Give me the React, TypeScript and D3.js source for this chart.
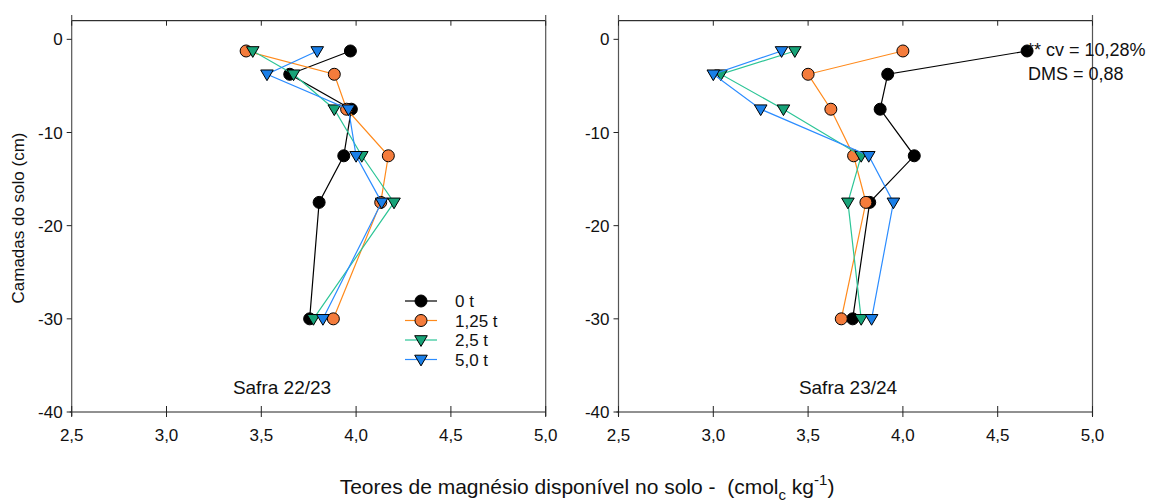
import React from "react";
import * as d3 from "d3";

const depths = [-1.25, -3.75, -7.5, -12.5, -17.5, -30];
const seriesNames = ["0 t", "1,25 t", "2,5 t", "5,0 t"];
const safra2223_0t = [3.97, 3.65, 3.975, 3.935, 3.805, 3.755];
const safra2223_125t = [3.42, 3.885, 3.95, 4.17, 4.13, 3.88];
const safra2223_25t = [3.455, 3.67, 3.885, 4.03, 4.2, 3.775];
const safra2223_50t = [3.795, 3.53, 3.96, 4.0, 4.135, 3.825];
const safra2324_0t = [4.655, 3.92, 3.88, 4.06, 3.825, 3.735];
const safra2324_125t = [4.0, 3.5, 3.62, 3.74, 3.805, 3.675];
const safra2324_25t = [3.43, 3.04, 3.37, 3.78, 3.71, 3.78];
const safra2324_50t = [3.36, 3.0, 3.25, 3.82, 3.95, 3.835];
const xTicks = [2.5, 3.0, 3.5, 4.0, 4.5, 5.0];
const yTicks = [0, -10, -20, -30, -40];

const styles = [
  { line: "#000000", fill: "#000000", shape: "circle" },
  { line: "#FF8A1C", fill: "#F47C3C", shape: "circle" },
  { line: "#2CC596", fill: "#17A378", shape: "tri" },
  { line: "#2B8CFF", fill: "#1A7FE8", shape: "tri" },
];

const FONT = "Arial, 'Liberation Sans', sans-serif";

function Marker({ x, y, shape, fill }: { x: number; y: number; shape: string; fill: string }) {
  if (shape === "circle") {
    return <circle cx={x} cy={y} r={6} fill={fill} stroke="#000" strokeWidth={1} />;
  }
  const p = `${x - 6.3},${y - 4.3} ${x + 6.3},${y - 4.3} ${x},${y + 6.4}`;
  return <polygon points={p} fill={fill} stroke="#000" strokeWidth={1} strokeLinejoin="miter" />;
}

function Panel({ left, data, title, titleX, showLegend, annotation }: any) {
  const x = d3.scaleLinear().domain([2.5, 5.0]).range([left, left + 474]);
  const y = d3.scaleLinear().domain([-40, 2]).range([412, 20.7]);
  const line = d3
    .line<[number, number]>()
    .x((d) => x(d[0]))
    .y((d) => y(d[1]));
  const x0 = x(2.5);
  const x1 = x(5.0);
  const yb = y(-40);
  const yt = y(2);
  return (
    <g>
      <line x1={x0} y1={yt} x2={x1} y2={yt} stroke="#000" strokeWidth={1} />
      <line x1={x0 - 2} y1={yb} x2={x1} y2={yb} stroke="#222" strokeWidth={1} />
      <line x1={x0} y1={15} x2={x0} y2={416} stroke="#555" strokeWidth={1.2} />
      <line x1={x1} y1={15} x2={x1} y2={416} stroke="#555" strokeWidth={1.2} />
      {xTicks.map((t) => (
        <g key={"x" + t}>
          <line x1={x(t)} x2={x(t)} y1={yb - 6} y2={yb + 5} stroke="#222" strokeWidth={1} />
          <line x1={x(t)} x2={x(t)} y1={yt} y2={yt + 5} stroke="#222" strokeWidth={1} />
          <text x={x(t)} y={441} textAnchor="middle" fontSize={17} fontFamily={FONT} fill="#111">
            {d3.format(".1f")(t).replace(".", ",")}
          </text>
        </g>
      ))}
      {yTicks.map((t) => (
        <g key={"y" + t}>
          <line x1={x0 - 5} x2={x0} y1={y(t)} y2={y(t)} stroke="#222" strokeWidth={1} />
          <text x={x0 - 9} y={y(t) + 6} textAnchor="end" fontSize={17} fontFamily={FONT} fill="#111">
            {t}
          </text>
        </g>
      ))}
      {data.map((vals: number[], i: number) => {
        const pts: [number, number][] = vals.map((v, j) => [v, depths[j]]);
        const s = styles[i];
        return (
          <g key={"s" + i}>
            <path d={line(pts) || ""} fill="none" stroke={s.line} strokeWidth={1.2} />
            {pts.map((p, j) => (
              <Marker key={j} x={x(p[0])} y={y(p[1])} shape={s.shape} fill={s.fill} />
            ))}
          </g>
        );
      })}
      <text x={titleX} y={394} textAnchor="middle" fontSize={19} fontFamily={FONT} fill="#111">
        {title}
      </text>
      {showLegend &&
        seriesNames.map((n, i) => {
          const ly = 301 + i * 19.5;
          const s = styles[i];
          return (
            <g key={"l" + i}>
              <line x1={405} x2={437} y1={ly} y2={ly} stroke={s.line} strokeWidth={1.2} />
              <Marker x={421} y={ly} shape={s.shape} fill={s.fill} />
              <text x={455} y={ly + 6} fontSize={17} fontFamily={FONT} fill="#111">
                {n}
              </text>
            </g>
          );
        })}
      {annotation && (
        <g fontSize={18} fontFamily={FONT} fill="#111">
          <text x={1027} y={56}>** cv = 10,28%</text>
          <text x={1028} y={80}>DMS = 0,88</text>
        </g>
      )}
    </g>
  );
}

export default function App() {
  return (
    <svg width={1152} height={504} style={{ display: "block", position: "absolute", left: 0, top: 0 }}>
      <rect width={1152} height={504} fill="#fff" />
      <Panel
        left={71.7}
        data={[safra2223_0t, safra2223_125t, safra2223_25t, safra2223_50t]}
        title="Safra 22/23"
        titleX={282}
        showLegend={true}
      />
      <Panel
        left={618.5}
        data={[safra2324_0t, safra2324_125t, safra2324_25t, safra2324_50t]}
        title="Safra 23/24"
        titleX={848}
        annotation={true}
      />
      <text
        transform="translate(24,218) rotate(-90)"
        textAnchor="middle"
        fontSize={17}
        fontFamily={FONT}
        fill="#111"
      >
        Camadas do solo (cm)
      </text>
      <text
        x={587}
        y={494}
        textAnchor="middle"
        fontSize={21}
        fontFamily={FONT}
        fill="#111"
        style={{ whiteSpace: "pre" }}
      >
        {"Teores de magnésio disponível no solo -  (cmol"}
        <tspan dy={6} fontSize={15}>c</tspan>
        <tspan dy={-6}>{" kg"}</tspan>
        <tspan dy={-9} fontSize={15}>-1</tspan>
        <tspan dy={9}>)</tspan>
      </text>
    </svg>
  );
}
